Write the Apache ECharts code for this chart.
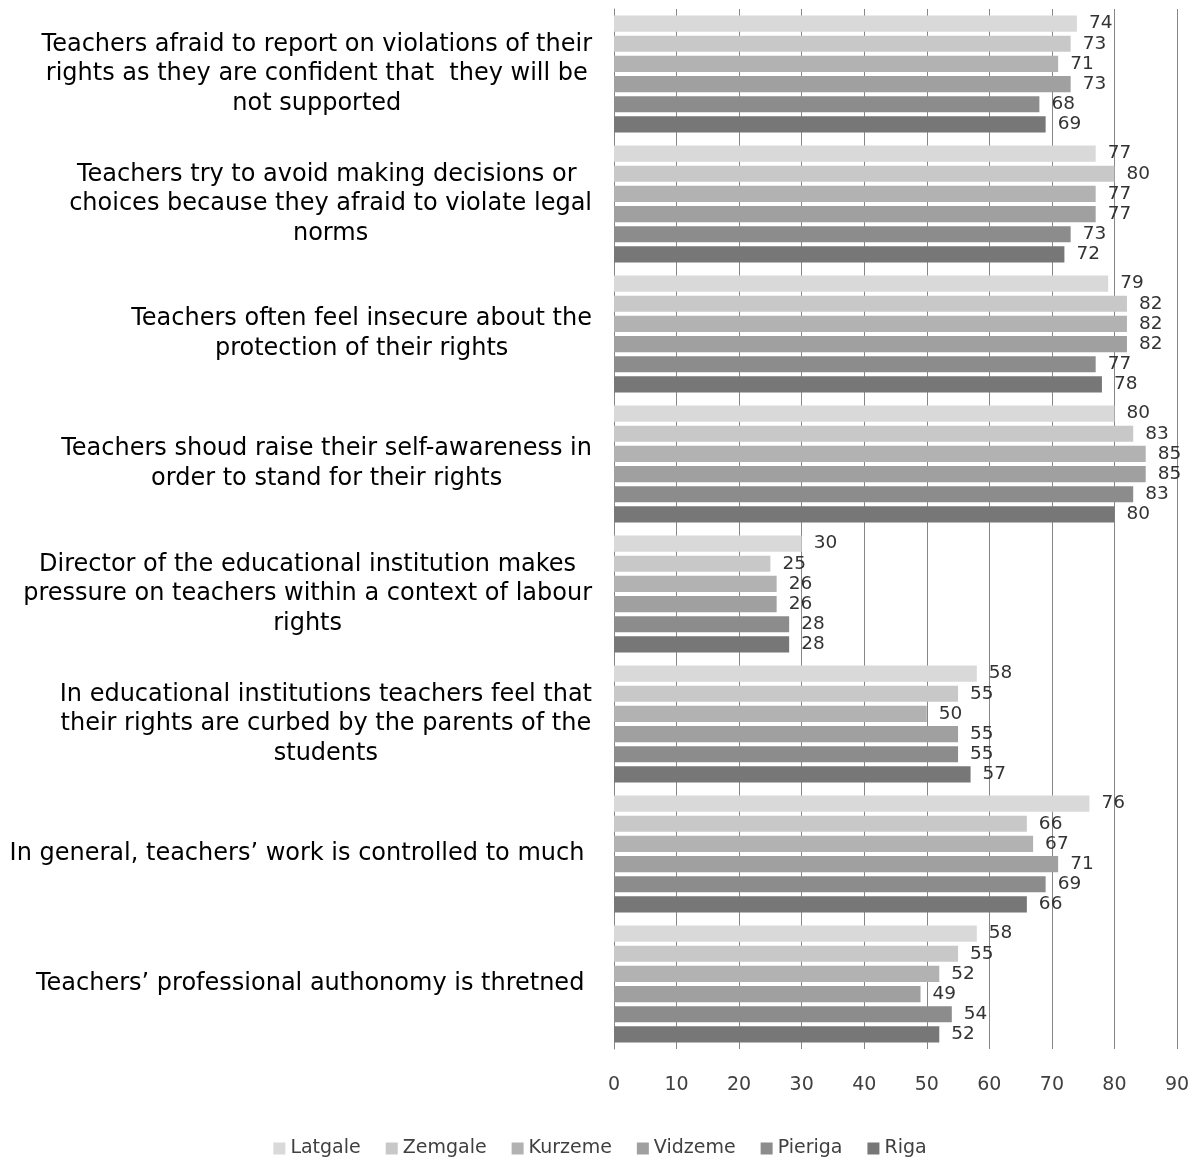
<!DOCTYPE html>
<html>
<head>
<meta charset="utf-8">
<script src="https://cdn.jsdelivr.net/npm/echarts@6/dist/echarts.min.js"></script>
<style>
html,body{margin:0;padding:0;background:#fff;}
#chart{width:1200px;height:1157px;}
</style>
</head>
<body>
<div id="chart"></div>
<script>
const categories = [
  "Teachers afraid to report on violations of their\nrights as they are confident that  they will be\nnot supported",
  "Teachers try to avoid making decisions or \nchoices because they afraid to violate legal\nnorms",
  "Teachers often feel insecure about the\nprotection of their rights",
  "Teachers shoud raise their self-awareness in\norder to stand for their rights",
  "Director of the educational institution makes\npressure on teachers within a context of labour\nrights",
  "In educational institutions teachers feel that\ntheir rights are curbed by the parents of the\nstudents",
  "In general, teachers\u2019 work is controlled to much ",
  "Teachers\u2019 professional authonomy is thretned "
];
const seriesNames = ["Latgale", "Zemgale", "Kurzeme", "Vidzeme", "Pieriga", "Riga"];
const latgale = [74, 77, 79, 80, 30, 58, 76, 58];
const zemgale = [73, 80, 82, 83, 25, 55, 66, 55];
const kurzeme = [71, 77, 82, 85, 26, 50, 67, 52];
const vidzeme = [73, 77, 82, 85, 26, 55, 71, 49];
const pieriga = [68, 73, 77, 83, 28, 55, 69, 54];
const riga    = [69, 72, 78, 80, 28, 57, 66, 52];
const xTicks = [0, 10, 20, 30, 40, 50, 60, 70, 80, 90];

const seriesData = [latgale, zemgale, kurzeme, vidzeme, pieriga, riga];
const colors = ["#d9d9d9", "#c8c8c8", "#b2b2b2", "#a0a0a0", "#8c8c8c", "#777777"];
const FONT = "DejaVu Sans";

const chart = echarts.init(document.getElementById('chart'), null, {renderer: 'canvas'});
chart.setOption({
  animation: false,
  backgroundColor: '#fff',
  color: colors,
  grid: {left: 614, right: 23, top: 9, bottom: 108, containLabel: false},
  legend: {
    bottom: -6,
    left: 'center',
    icon: 'rect',
    itemWidth: 12,
    itemHeight: 12,
    itemGap: 25,
    textStyle: {fontFamily: FONT, fontSize: 19, color: '#404040'},
    data: seriesNames
  },
  xAxis: {
    type: 'value',
    min: xTicks[0],
    max: xTicks[xTicks.length - 1],
    interval: 10,
    axisLine: {show: false},
    axisTick: {show: false},
    splitLine: {show: true, lineStyle: {color: '#868686', width: 1}},
    axisLabel: {fontFamily: FONT, fontSize: 19, color: '#404040', margin: 27}
  },
  yAxis: {
    type: 'category',
    inverse: true,
    data: categories,
    axisLine: {show: true, lineStyle: {color: '#868686', width: 1}},
    axisTick: {show: false},
    axisLabel: {
      margin: 22,
      align: 'right',
      formatter: v => v.split('\n').map(l => '{a|' + l + '}').join('\n'),
      rich: {a: {align: 'center', fontFamily: FONT, fontSize: 24, lineHeight: 29.5, color: '#000'}}
    }
  },
  series: seriesNames.map((name, i) => ({
    name: name,
    type: 'bar',
    data: seriesData[i],
    barGap: '25%',
    barCategoryGap: '10%',
    itemStyle: {color: colors[i]},
    label: {show: true, position: 'right', distance: 12, fontFamily: FONT, fontSize: 18.5, color: '#333333'}
  }))
});
</script>
</body>
</html>
